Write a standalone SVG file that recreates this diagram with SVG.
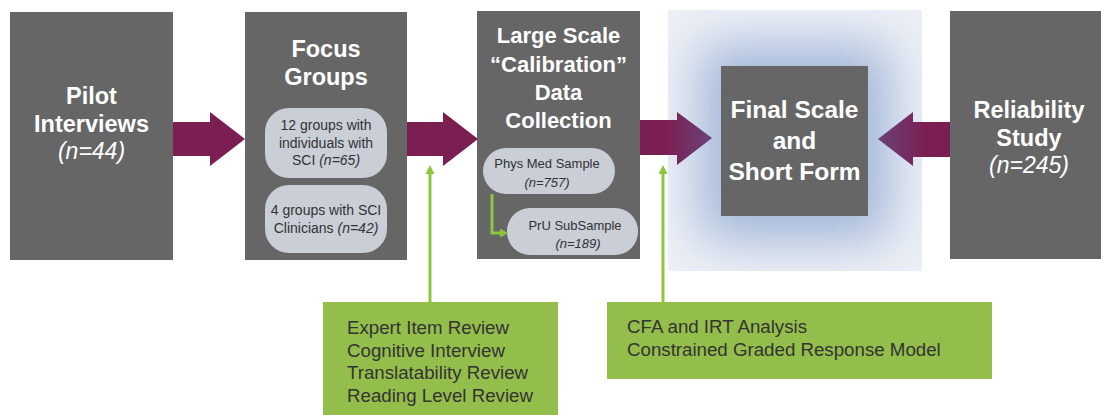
<svg xmlns="http://www.w3.org/2000/svg" width="1101" height="415" viewBox="0 0 1101 415">
<style>
.box{fill:#666666}
.pill{fill:#C9CED7}
.t{font-family:"Liberation Sans",Arial,sans-serif;font-weight:bold;font-size:23.5px;fill:#ffffff;text-anchor:middle}
.ti{font-family:"Liberation Sans",Arial,sans-serif;font-style:italic;font-size:23px;fill:#ffffff;text-anchor:middle}
.p{font-family:"Liberation Sans",Arial,sans-serif;font-size:14px;fill:#333333;text-anchor:middle}
.ps{font-family:"Liberation Sans",Arial,sans-serif;font-size:13px;fill:#333333;text-anchor:middle}
.g{fill:#93BE4B}
.gt{font-family:"Liberation Sans",Arial,sans-serif;font-size:18.7px;fill:#333333}
.arr{fill:#7B1F52}
.gl{stroke:#8CC63F;stroke-width:3;fill:none}
.gh{fill:#8CC63F}
</style>
<defs>
<filter id="blur" x="-50%" y="-50%" width="200%" height="200%"><feGaussianBlur stdDeviation="26"/></filter>
<clipPath id="glowclip"><rect x="668" y="10" width="254" height="261"/></clipPath>
<linearGradient id="g3" gradientUnits="userSpaceOnUse" x1="640" y1="0" x2="712" y2="0">
<stop offset="0" stop-color="#7B1F52"/><stop offset="0.35" stop-color="#7B1F52"/><stop offset="1" stop-color="#6A4279"/>
</linearGradient>
<linearGradient id="g4" gradientUnits="userSpaceOnUse" x1="950" y1="0" x2="878" y2="0">
<stop offset="0" stop-color="#7B1F52"/><stop offset="0.35" stop-color="#7B1F52"/><stop offset="1" stop-color="#6A4279"/>
</linearGradient>
</defs>
<rect width="1101" height="415" fill="#ffffff"/>

<g id="glow">
<rect x="668" y="10" width="254" height="261" fill="#EDF0F6"/>
<g clip-path="url(#glowclip)">
<rect x="700" y="45" width="190" height="195" fill="#A0B5D8" filter="url(#blur)"/>
</g>
</g>

<g id="pilot">
<rect class="box" x="10" y="12" width="163" height="248"/>
<text class="t" x="91.5" y="104">Pilot</text>
<text class="t" x="91.5" y="132">Interviews</text>
<text class="ti" x="91.5" y="159">(n=44)</text>
</g>

<g id="focus">
<rect class="box" x="245" y="12" width="162" height="248"/>
<text class="t" x="326" y="57">Focus</text>
<text class="t" x="326" y="85">Groups</text>
<rect class="pill" x="265" y="108" width="122" height="70" rx="24"/>
<text class="p" x="326" y="130">12 groups with</text>
<text class="p" x="326" y="147.5">individuals with</text>
<text class="p" x="326" y="165">SCI <tspan font-style="italic">(n=65)</tspan></text>
<rect class="pill" x="265" y="185" width="122" height="68" rx="24"/>
<text class="p" x="326" y="215">4 groups with SCI</text>
<text class="p" x="326" y="232.5">Clinicians <tspan font-style="italic">(n=42)</tspan></text>
</g>

<g id="calibration">
<rect class="box" x="477" y="11" width="163" height="248"/>
<text class="t" x="558.5" y="43" style="font-size:22px">Large Scale</text>
<text class="t" x="558.5" y="72" style="font-size:22px">“Calibration”</text>
<text class="t" x="558.5" y="100" style="font-size:22px">Data</text>
<text class="t" x="558.5" y="128" style="font-size:22px">Collection</text>
<rect class="pill" x="483" y="148" width="132" height="46" rx="23"/>
<text class="ps" x="547" y="168">Phys Med Sample</text>
<text class="ps" x="547" y="187" font-style="italic">(n=757)</text>
<rect class="pill" x="507" y="208" width="131" height="47" rx="23"/>
<text class="ps" x="575" y="230">PrU SubSample</text>
<text class="ps" x="578" y="248" font-style="italic">(n=189)</text>
</g>

<g id="final">
<rect class="box" x="721" y="66" width="147" height="150"/>
<text class="t" x="794.5" y="118" style="font-size:24.5px">Final Scale</text>
<text class="t" x="794.5" y="149" style="font-size:24.5px">and</text>
<text class="t" x="794.5" y="180" style="font-size:24.5px">Short Form</text>
</g>

<g id="reliability">
<rect class="box" x="950" y="11" width="151" height="248"/>
<text class="t" x="1029" y="118">Reliability</text>
<text class="t" x="1029" y="146">Study</text>
<text class="ti" x="1029" y="173">(n=245)</text>
</g>

<g id="review">
<rect class="g" x="323" y="302" width="235" height="113"/>
<text class="gt" x="347" y="334">Expert Item Review</text>
<text class="gt" x="347" y="356.5">Cognitive Interview</text>
<text class="gt" x="347" y="379">Translatability Review</text>
<text class="gt" x="347" y="401.5">Reading Level Review</text>
</g>

<g id="analysis">
<rect class="g" x="607" y="302" width="385" height="77"/>
<text class="gt" x="627" y="333">CFA and IRT Analysis</text>
<text class="gt" x="627" y="355.5">Constrained Graded Response Model</text>
</g>

<g id="connectors">
<polygon class="arr" points="173,122 210,122 210,112 245,139 210,166 210,156 173,156"/>
<polygon class="arr" points="407,122 443,122 443,112 478,139 443,166 443,156 407,156"/>
<polygon fill="url(#g3)" points="640,120 677,120 677,112 712,138 677,165 677,155 640,155"/>
<polygon fill="url(#g4)" points="950,122 913,122 913,112 878,139 913,166 913,157 950,157"/>
<line class="gl" x1="430" y1="302" x2="430" y2="172"/>
<polygon class="gh" points="425.5,174 434.5,174 430,165"/>
<line class="gl" x1="663" y1="302" x2="663" y2="172"/>
<polygon class="gh" points="658.5,174 667.5,174 663,165"/>
<path class="gl" d="M492,194 V233 H501"/>
<polygon class="gh" points="500,228.5 500,237.5 508,233"/>
</g>
</svg>
